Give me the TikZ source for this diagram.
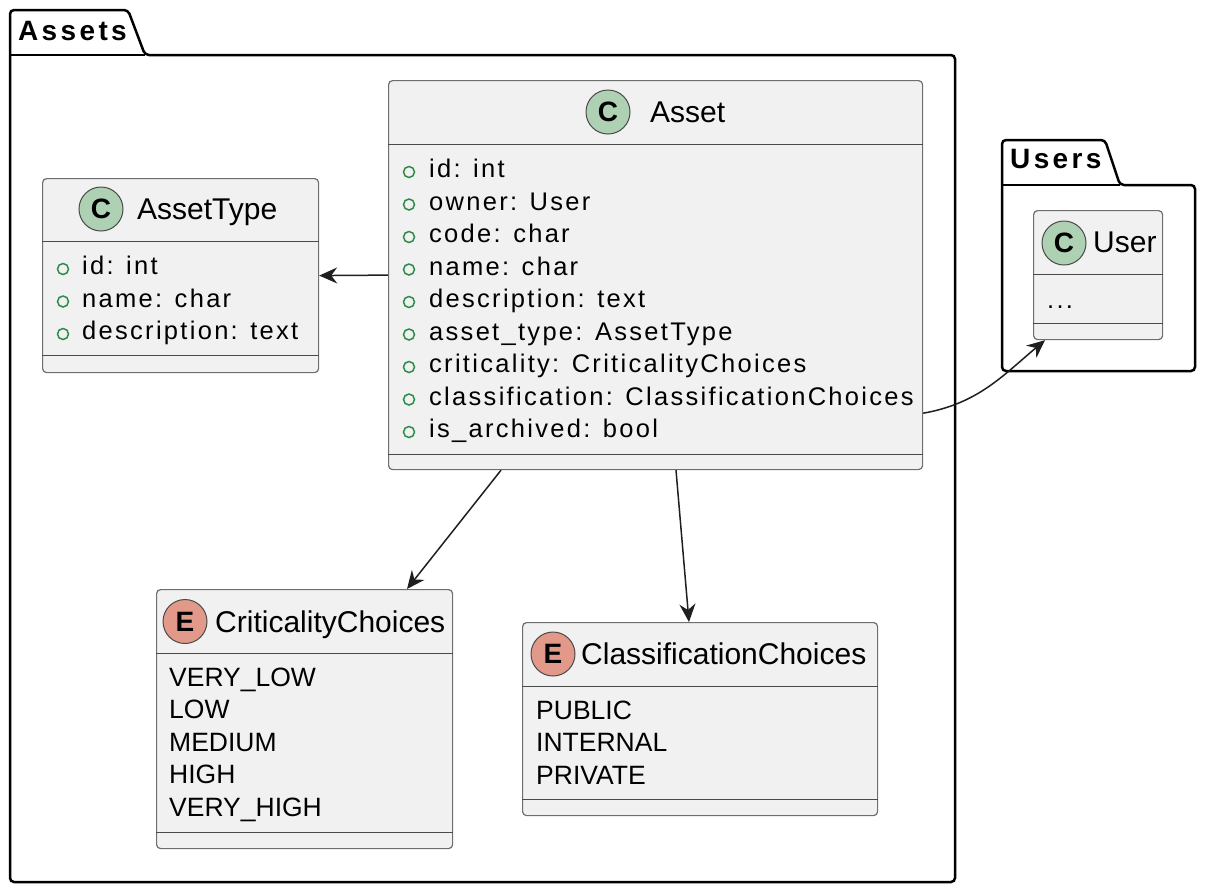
\documentclass[tikz,border=0pt]{standalone}
\usepackage{fontspec}
\setmainfont{Liberation Sans}
\newfontfamily\attrfont[LetterSpace=9]{Liberation Sans}
\newfontfamily\pkgfont[LetterSpace=12]{Liberation Sans}
\usetikzlibrary{positioning,arrows.meta}
\definecolor{boxfill}{HTML}{F1F1F1}
\definecolor{boxline}{HTML}{6E6E6E}
\definecolor{sepline}{HTML}{4A4A4A}
\definecolor{classspot}{HTML}{ADD1B2}
\definecolor{enumspot}{HTML}{E2998A}
\definecolor{markgreen}{HTML}{2E8B4A}

\begin{document}
\begin{tikzpicture}[x=1pt,y=-1pt,pkg/.style={draw=black,line width=2.5,rounded corners=4},classbox/.style={draw=boxline,fill=boxfill,line width=1.2,rounded corners=4,anchor=north west,inner sep=0},sep/.style={draw=sepline,line width=1},spot/.style={circle,draw=sepline,line width=1,minimum size=44,inner sep=0,font=\fontsize{28}{28}\selectfont\bfseries},title/.style={anchor=base west,inner sep=0,font=\fontsize{30}{32}\selectfont},attr/.style={anchor=base west,inner sep=0,font=\attrfont\fontsize{25.5}{30}\selectfont},enumval/.style={anchor=base west,inner sep=0,font=\fontsize{26.5}{30}\selectfont},pkglabel/.style={anchor=base west,inner sep=0,font=\pkgfont\bfseries\fontsize{28}{30}\selectfont},attrmark/.style={draw=markgreen,line width=1.5},assoc/.style={draw=black!88,line width=1.5,-{Stealth[length=18,width=16,inset=6]}}]
  \useasboundingbox (0,0) rectangle (1208,892);

  % packages
  \draw[pkg] (10,55) -- (10,10) -- (128,10) -- (145,55) -- (955,55) -- (955,882) -- (10,882) -- cycle;
  \draw[pkg] (10,55) -- (145,55);
  \node[pkglabel] (assets_lbl) at (18,40) {Assets};

  \draw[pkg] (1002,185) -- (1002,140) -- (1105,140) -- (1120,185) -- (1195,185) -- (1195,371) -- (1002,371) -- cycle;
  \draw[pkg] (1002,185) -- (1120,185);
  \node[pkglabel] (users_lbl) at (1010,168) {Users};

  % Asset
  \node[classbox,minimum width=534,minimum height=389] (asset) at (388,80) {};
  \node[spot,fill=classspot] (asset_spot) at (608,112) {C};
  \node[title] (asset_title) at (650,122) {Asset};
  \draw[sep] (asset.west |- 0,144) -- (asset.east |- 0,144);
  \draw[sep] (asset.west |- 0,454) -- (asset.east |- 0,454);
  \foreach \txt [count=\i] in {id: int,owner: User,code: char,name: char,description: text,asset\_type: AssetType,criticality: CriticalityChoices,classification: ClassificationChoices,is\_archived: bool}
  {
    \node[attr] at (429,{145+32.5*\i}) {\txt};
    \draw[attrmark] (409,{139.5+32.5*\i}) circle[radius=5.5pt];
  }

  % AssetType
  \node[classbox,minimum width=276,minimum height=194] (asset_type) at (42,178) {};
  \node[spot,fill=classspot] (asset_type_spot) at (101,209) {C};
  \node[title] (asset_type_title) at (137,219) {AssetType};
  \draw[sep] (asset_type.west |- 0,241) -- (asset_type.east |- 0,241);
  \draw[sep] (asset_type.west |- 0,355) -- (asset_type.east |- 0,355);
  \foreach \txt [count=\i] in {id: int,name: char,description: text}
  {
    \node[attr] at (82,{242+32.5*\i}) {\txt};
    \draw[attrmark] (63,{236.5+32.5*\i}) circle[radius=5.5pt];
  }

  % User
  \node[classbox,minimum width=129,minimum height=129] (user) at (1033,210) {};
  \node[spot,fill=classspot] (user_spot) at (1064,243) {C};
  \node[title] (user_title) at (1093,252) {User};
  \draw[sep] (user.west |- 0,274) -- (user.east |- 0,274);
  \draw[sep] (user.west |- 0,323) -- (user.east |- 0,323);
  \node[attr] (user_dots) at (1047,308) {...};

  % CriticalityChoices
  \node[classbox,minimum width=296,minimum height=259] (criticality) at (156,589) {};
  \node[spot,fill=enumspot] (criticality_spot) at (185,621.5) {E};
  \node[title] (criticality_title) at (215,632) {CriticalityChoices};
  \draw[sep] (criticality.west |- 0,653) -- (criticality.east |- 0,653);
  \draw[sep] (criticality.west |- 0,832) -- (criticality.east |- 0,832);
  \foreach \txt [count=\i] in {VERY\_LOW,LOW,MEDIUM,HIGH,VERY\_HIGH}
    \node[enumval] at (169,{653.5+32.5*\i}) {\txt};

  % ClassificationChoices
  \node[classbox,minimum width=355,minimum height=193] (classification) at (522,622) {};
  \node[spot,fill=enumspot] (classification_spot) at (553,654) {E};
  \node[title] (classification_title) at (581,664) {ClassificationChoices};
  \draw[sep] (classification.west |- 0,686) -- (classification.east |- 0,686);
  \draw[sep] (classification.west |- 0,799) -- (classification.east |- 0,799);
  \foreach \txt [count=\i] in {PUBLIC,INTERNAL,PRIVATE}
    \node[enumval] at (536,{686.5+32.5*\i}) {\txt};

  % associations
  \draw[assoc] (asset.west) -- (asset_type.east);
  \draw[assoc] ([xshift=113]asset.south west) -- ([xshift=251]criticality.north west);
  \draw[assoc] ([xshift=288]asset.south west) -- ([xshift=167]classification.north west);
  \draw[assoc] ([yshift=57]asset.south east) to[out=10,in=-140] ([xshift=12]user.south west);
\end{tikzpicture}
\end{document}
